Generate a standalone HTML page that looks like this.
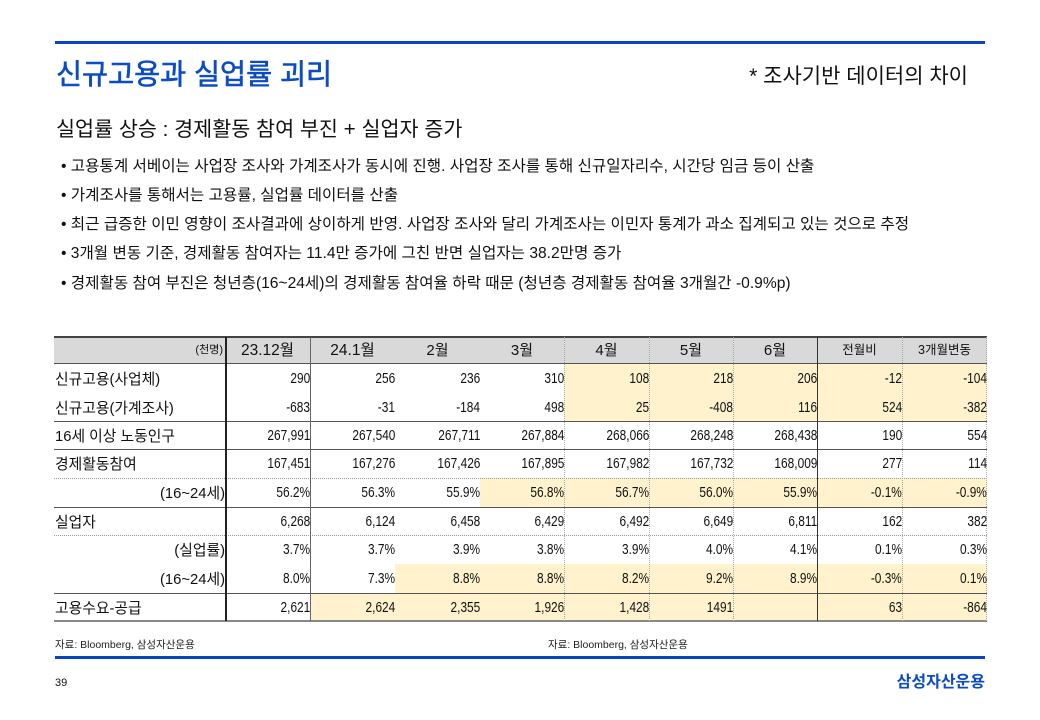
<!DOCTYPE html>
<html><head><meta charset="utf-8">
<style>
*{margin:0;padding:0;box-sizing:border-box}
body{width:1040px;height:720px;position:relative;overflow:hidden;background:#fff;font-family:"Liberation Sans","Noto Sans CJK KR",sans-serif;color:#111}
.a{position:absolute;white-space:nowrap}
.hl{position:absolute;height:1px;background:#555;left:54px;width:933px}
.dl{position:absolute;height:0;border-top:1px dotted #999;left:54px;width:933px}
.vl{position:absolute;width:1px;top:337px;height:284px}
.vd{position:absolute;width:0;top:337px;height:284px;border-left:1px dotted #aaa}
.y{position:absolute;background:#fff2cc}
.n{position:absolute;text-align:right;font-size:14.5px;white-space:nowrap;padding-top:1px}
.n span{display:inline-block;transform:scaleX(.82);transform-origin:100% 50%}
.lab{position:absolute;left:55px;font-size:14.8px;white-space:nowrap;padding-top:2px}
.sub{position:absolute;right:815px;font-size:14.8px;white-space:nowrap;text-align:right;padding-top:2px}
.h{position:absolute;text-align:center;font-size:15px;top:337px;height:27px;line-height:27px;white-space:nowrap}
.b{position:absolute;left:61px;font-size:15.6px;white-space:nowrap;height:22px;line-height:22px}
</style></head><body>

<div class="a" style="left:55px;top:41px;width:930px;height:3px;background:#0a46c0"></div>
<div class="a" style="left:56px;top:55px;font-size:28.3px;line-height:38px;color:#0b4cc6;-webkit-text-stroke:0.6px #0b4cc6">신규고용과 실업률 괴리</div>
<div class="a" style="right:72px;top:62px;font-size:21px;line-height:30px;color:#111">* 조사기반 데이터의 차이</div>
<div class="a" style="left:56px;top:115px;font-size:20.7px;line-height:30px;color:#111">실업률 상승 : 경제활동 참여 부진 + 실업자 증가</div>

<div class="b" style="top:156px">• 고용통계 서베이는 사업장 조사와 가계조사가 동시에 진행. 사업장 조사를 통해 신규일자리수, 시간당 임금 등이 산출</div>
<div class="b" style="top:185px">• 가계조사를 통해서는 고용률, 실업률 데이터를 산출</div>
<div class="b" style="top:214px">• 최근 급증한 이민 영향이 조사결과에 상이하게 반영. 사업장 조사와 달리 가계조사는 이민자 통계가 과소 집계되고 있는 것으로 추정</div>
<div class="b" style="top:243px">• 3개월 변동 기준, 경제활동 참여자는 11.4만 증가에 그친 반면 실업자는 38.2만명 증가</div>
<div class="b" style="top:273px">• 경제활동 참여 부진은 청년층(16~24세)의 경제활동 참여율 하락 때문 (청년층 경제활동 참여율 3개월간 -0.9%p)</div>

<!-- table backgrounds -->
<div class="y" style="left:54px;top:337px;width:933px;height:27px;background:#d9d9d9"></div>
<div class="y" style="left:564px;top:364px;width:423px;height:57px"></div>
<div class="y" style="left:480px;top:478px;width:507px;height:29px"></div>
<div class="y" style="left:395px;top:564px;width:592px;height:29px"></div>
<div class="y" style="left:310px;top:593px;width:677px;height:28px"></div>

<!-- horizontal lines -->
<div class="hl" style="top:336px;height:2px;background:#444"></div>
<div class="hl" style="top:363px;background:#555"></div>
<div class="hl" style="top:421px"></div>
<div class="hl" style="top:449px"></div>
<div class="dl" style="top:478px"></div>
<div class="hl" style="top:507px"></div>
<div class="dl" style="top:535px"></div>
<div class="hl" style="top:593px"></div>
<div class="hl" style="top:620px;height:2px;background:#888"></div>

<!-- vertical lines -->
<div class="vl" style="left:225px;width:2px;background:#222"></div>
<div class="vl" style="left:310px;background:#666"></div>
<div class="vl" style="left:817px;background:#333"></div>
<div class="vd" style="left:564px"></div>
<div class="vd" style="left:649px"></div>
<div class="vd" style="left:733px"></div>
<div class="vd" style="left:902px"></div>
<div class="vd" style="left:986px"></div>

<!-- header -->
<div class="h" style="left:54px;width:171px;text-align:right;font-size:11px;padding-right:2px">(천명)</div>
<div class="h" style="left:225px;width:85px;font-size:15.5px">23.12월</div>
<div class="h" style="left:310px;width:85px;font-size:15.5px">24.1월</div>
<div class="h" style="left:395px;width:85px">2월</div>
<div class="h" style="left:480px;width:84px">3월</div>
<div class="h" style="left:564px;width:85px">4월</div>
<div class="h" style="left:649px;width:84px">5월</div>
<div class="h" style="left:733px;width:84px">6월</div>
<div class="h" style="left:817px;width:85px;font-size:12.5px">전월비</div>
<div class="h" style="left:902px;width:85px;font-size:12.5px">3개월변동</div>

<!-- labels -->
<div class="lab" style="top:364px;line-height:29px">신규고용(사업체)</div>
<div class="lab" style="top:393px;line-height:28px">신규고용(가계조사)</div>
<div class="lab" style="top:421px;line-height:28px">16세 이상 노동인구</div>
<div class="lab" style="top:449px;line-height:29px">경제활동참여</div>
<div class="sub" style="top:478px;line-height:29px">(16~24세)</div>
<div class="lab" style="top:507px;line-height:28px">실업자</div>
<div class="sub" style="top:535px;line-height:29px">(실업률)</div>
<div class="sub" style="top:564px;line-height:29px">(16~24세)</div>
<div class="lab" style="top:593px;line-height:28px">고용수요-공급</div>

<!-- numbers -->
<div class="n" style="left:225px;width:85px;top:364px;line-height:29px"><span>290</span></div>
<div class="n" style="left:310px;width:85px;top:364px;line-height:29px"><span>256</span></div>
<div class="n" style="left:395px;width:85px;top:364px;line-height:29px"><span>236</span></div>
<div class="n" style="left:480px;width:84px;top:364px;line-height:29px"><span>310</span></div>
<div class="n" style="left:564px;width:85px;top:364px;line-height:29px"><span>108</span></div>
<div class="n" style="left:649px;width:84px;top:364px;line-height:29px"><span>218</span></div>
<div class="n" style="left:733px;width:84px;top:364px;line-height:29px"><span>206</span></div>
<div class="n" style="left:817px;width:85px;top:364px;line-height:29px"><span>-12</span></div>
<div class="n" style="left:902px;width:85px;top:364px;line-height:29px"><span>-104</span></div>

<div class="n" style="left:225px;width:85px;top:393px;line-height:28px"><span>-683</span></div>
<div class="n" style="left:310px;width:85px;top:393px;line-height:28px"><span>-31</span></div>
<div class="n" style="left:395px;width:85px;top:393px;line-height:28px"><span>-184</span></div>
<div class="n" style="left:480px;width:84px;top:393px;line-height:28px"><span>498</span></div>
<div class="n" style="left:564px;width:85px;top:393px;line-height:28px"><span>25</span></div>
<div class="n" style="left:649px;width:84px;top:393px;line-height:28px"><span>-408</span></div>
<div class="n" style="left:733px;width:84px;top:393px;line-height:28px"><span>116</span></div>
<div class="n" style="left:817px;width:85px;top:393px;line-height:28px"><span>524</span></div>
<div class="n" style="left:902px;width:85px;top:393px;line-height:28px"><span>-382</span></div>

<div class="n" style="left:225px;width:85px;top:421px;line-height:28px"><span>267,991</span></div>
<div class="n" style="left:310px;width:85px;top:421px;line-height:28px"><span>267,540</span></div>
<div class="n" style="left:395px;width:85px;top:421px;line-height:28px"><span>267,711</span></div>
<div class="n" style="left:480px;width:84px;top:421px;line-height:28px"><span>267,884</span></div>
<div class="n" style="left:564px;width:85px;top:421px;line-height:28px"><span>268,066</span></div>
<div class="n" style="left:649px;width:84px;top:421px;line-height:28px"><span>268,248</span></div>
<div class="n" style="left:733px;width:84px;top:421px;line-height:28px"><span>268,438</span></div>
<div class="n" style="left:817px;width:85px;top:421px;line-height:28px"><span>190</span></div>
<div class="n" style="left:902px;width:85px;top:421px;line-height:28px"><span>554</span></div>

<div class="n" style="left:225px;width:85px;top:449px;line-height:29px"><span>167,451</span></div>
<div class="n" style="left:310px;width:85px;top:449px;line-height:29px"><span>167,276</span></div>
<div class="n" style="left:395px;width:85px;top:449px;line-height:29px"><span>167,426</span></div>
<div class="n" style="left:480px;width:84px;top:449px;line-height:29px"><span>167,895</span></div>
<div class="n" style="left:564px;width:85px;top:449px;line-height:29px"><span>167,982</span></div>
<div class="n" style="left:649px;width:84px;top:449px;line-height:29px"><span>167,732</span></div>
<div class="n" style="left:733px;width:84px;top:449px;line-height:29px"><span>168,009</span></div>
<div class="n" style="left:817px;width:85px;top:449px;line-height:29px"><span>277</span></div>
<div class="n" style="left:902px;width:85px;top:449px;line-height:29px"><span>114</span></div>

<div class="n" style="left:225px;width:85px;top:478px;line-height:29px"><span>56.2%</span></div>
<div class="n" style="left:310px;width:85px;top:478px;line-height:29px"><span>56.3%</span></div>
<div class="n" style="left:395px;width:85px;top:478px;line-height:29px"><span>55.9%</span></div>
<div class="n" style="left:480px;width:84px;top:478px;line-height:29px"><span>56.8%</span></div>
<div class="n" style="left:564px;width:85px;top:478px;line-height:29px"><span>56.7%</span></div>
<div class="n" style="left:649px;width:84px;top:478px;line-height:29px"><span>56.0%</span></div>
<div class="n" style="left:733px;width:84px;top:478px;line-height:29px"><span>55.9%</span></div>
<div class="n" style="left:817px;width:85px;top:478px;line-height:29px"><span>-0.1%</span></div>
<div class="n" style="left:902px;width:85px;top:478px;line-height:29px"><span>-0.9%</span></div>

<div class="n" style="left:225px;width:85px;top:507px;line-height:28px"><span>6,268</span></div>
<div class="n" style="left:310px;width:85px;top:507px;line-height:28px"><span>6,124</span></div>
<div class="n" style="left:395px;width:85px;top:507px;line-height:28px"><span>6,458</span></div>
<div class="n" style="left:480px;width:84px;top:507px;line-height:28px"><span>6,429</span></div>
<div class="n" style="left:564px;width:85px;top:507px;line-height:28px"><span>6,492</span></div>
<div class="n" style="left:649px;width:84px;top:507px;line-height:28px"><span>6,649</span></div>
<div class="n" style="left:733px;width:84px;top:507px;line-height:28px"><span>6,811</span></div>
<div class="n" style="left:817px;width:85px;top:507px;line-height:28px"><span>162</span></div>
<div class="n" style="left:902px;width:85px;top:507px;line-height:28px"><span>382</span></div>

<div class="n" style="left:225px;width:85px;top:535px;line-height:29px"><span>3.7%</span></div>
<div class="n" style="left:310px;width:85px;top:535px;line-height:29px"><span>3.7%</span></div>
<div class="n" style="left:395px;width:85px;top:535px;line-height:29px"><span>3.9%</span></div>
<div class="n" style="left:480px;width:84px;top:535px;line-height:29px"><span>3.8%</span></div>
<div class="n" style="left:564px;width:85px;top:535px;line-height:29px"><span>3.9%</span></div>
<div class="n" style="left:649px;width:84px;top:535px;line-height:29px"><span>4.0%</span></div>
<div class="n" style="left:733px;width:84px;top:535px;line-height:29px"><span>4.1%</span></div>
<div class="n" style="left:817px;width:85px;top:535px;line-height:29px"><span>0.1%</span></div>
<div class="n" style="left:902px;width:85px;top:535px;line-height:29px"><span>0.3%</span></div>

<div class="n" style="left:225px;width:85px;top:564px;line-height:29px"><span>8.0%</span></div>
<div class="n" style="left:310px;width:85px;top:564px;line-height:29px"><span>7.3%</span></div>
<div class="n" style="left:395px;width:85px;top:564px;line-height:29px"><span>8.8%</span></div>
<div class="n" style="left:480px;width:84px;top:564px;line-height:29px"><span>8.8%</span></div>
<div class="n" style="left:564px;width:85px;top:564px;line-height:29px"><span>8.2%</span></div>
<div class="n" style="left:649px;width:84px;top:564px;line-height:29px"><span>9.2%</span></div>
<div class="n" style="left:733px;width:84px;top:564px;line-height:29px"><span>8.9%</span></div>
<div class="n" style="left:817px;width:85px;top:564px;line-height:29px"><span>-0.3%</span></div>
<div class="n" style="left:902px;width:85px;top:564px;line-height:29px"><span>0.1%</span></div>

<div class="n" style="left:225px;width:85px;top:593px;line-height:28px"><span>2,621</span></div>
<div class="n" style="left:310px;width:85px;top:593px;line-height:28px"><span>2,624</span></div>
<div class="n" style="left:395px;width:85px;top:593px;line-height:28px"><span>2,355</span></div>
<div class="n" style="left:480px;width:84px;top:593px;line-height:28px"><span>1,926</span></div>
<div class="n" style="left:564px;width:85px;top:593px;line-height:28px"><span>1,428</span></div>
<div class="n" style="left:649px;width:84px;top:593px;line-height:28px"><span>1491</span></div>
<div class="n" style="left:817px;width:85px;top:593px;line-height:28px"><span>63</span></div>
<div class="n" style="left:902px;width:85px;top:593px;line-height:28px"><span>-864</span></div>

<!-- footer -->
<div class="a" style="left:55px;top:637px;font-size:10.5px;line-height:16px;color:#222">자료: Bloomberg, 삼성자산운용</div>
<div class="a" style="left:548px;top:637px;font-size:10.5px;line-height:16px;color:#222">자료: Bloomberg, 삼성자산운용</div>
<div class="a" style="left:55px;top:656px;width:930px;height:3px;background:#0a46c0"></div>
<div class="a" style="left:55px;top:675px;font-size:11px;line-height:16px;color:#111">39</div>
<div class="a" style="right:55px;top:672px;font-size:16px;line-height:22px;font-weight:bold;color:#0b4cc6">삼성자산운용</div>

</body></html>
